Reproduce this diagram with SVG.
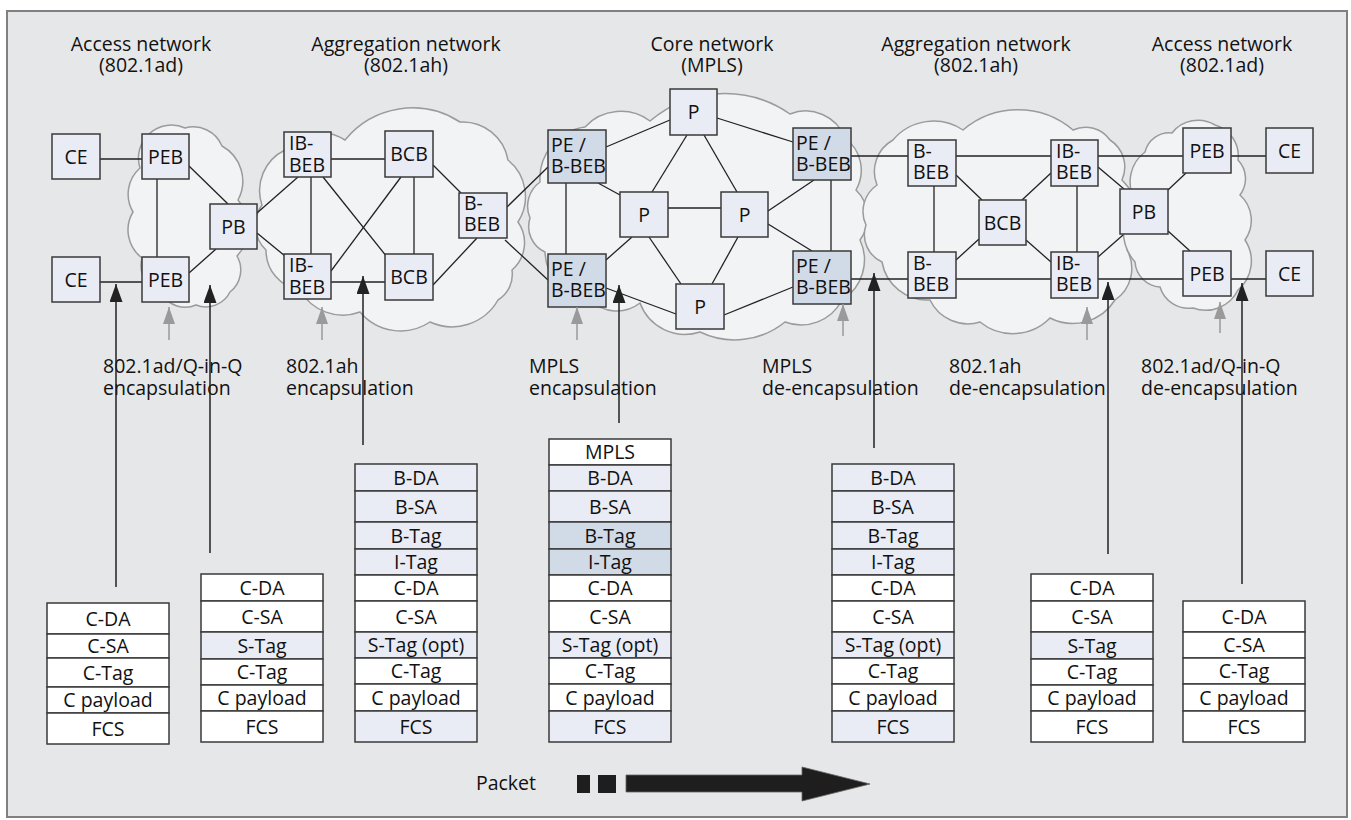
<svg xmlns="http://www.w3.org/2000/svg" width="1351" height="820" viewBox="0 0 1351 820">
<style>
.frame{fill:#e6e7e9;stroke:#808080;stroke-width:2}
.cloud{fill:#f2f3f5;stroke:#9b9b9b;stroke-width:1.5}
.node rect{fill:#e9ecf4;stroke:#3a3a3a;stroke-width:1.5}
.node.pe rect{fill:#d1dae7}
text{font-family:"Open Sans","Liberation Sans",sans-serif;font-size:19.5px;fill:#111}
.c{text-anchor:middle}
.link{stroke:#222;stroke-width:1.3;fill:none}
.arr{stroke:#222;stroke-width:1.5;fill:none}
.garr{stroke:#9a9a9a;stroke-width:1.5;fill:none}
.row rect{stroke:#3a3a3a;stroke-width:1.5;fill:#fff}
.row rect.s{fill:#e9ecf4}
.row rect.d{fill:#d1dae7}
</style>
<defs>
<marker id="ah" viewBox="0 0 18 13" refX="18" refY="6.5" markerWidth="18" markerHeight="13" markerUnits="userSpaceOnUse" orient="auto"><path d="M0,0 L18,6.5 L0,13 Z" fill="#222"/></marker>
<marker id="gh" viewBox="0 0 17 12" refX="17" refY="6" markerWidth="17" markerHeight="12" markerUnits="userSpaceOnUse" orient="auto"><path d="M0,0 L17,6 L0,12 Z" fill="#9a9a9a"/></marker>
</defs>
<rect class="frame" x="7" y="11" width="1340" height="806"/>
<g id="clouds">
<path class="cloud" d="M140,168 A33,33 0 0 1 185,128 A31,31 0 0 1 222,146 A40,40 0 0 1 238,200 A42,42 0 0 1 237,256 A28,28 0 0 1 230,292 A27,27 0 0 1 196,305 A27,27 0 0 1 162,294 A30,30 0 0 1 142,258 A35,35 0 0 1 133,212 A35,35 0 0 1 140,168 Z"/>
<path class="cloud" d="M285,150 A45,45 0 0 1 345,140 A87,87 0 0 1 460,122 A46,46 0 0 1 508,160 A47,47 0 0 1 518,222 A36,36 0 0 1 512,270 A30,30 0 0 1 498,300 A53,53 0 0 1 430,322 A53,53 0 0 1 360,312 A49,49 0 0 1 300,290 A40,40 0 0 1 266,250 A34,34 0 0 1 262,205 A45,45 0 0 1 285,150 Z"/>
<path class="cloud" d="M540,182 A52,52 0 0 1 585,127 A49,49 0 0 1 650,121 A115,115 0 0 1 790,114 A42,42 0 0 1 845,138 A40,40 0 0 1 856,190 A38,38 0 0 1 860,240 A47,47 0 0 1 842,300 A46,46 0 0 1 785,322 A80,80 0 0 1 700,332 A48,48 0 0 1 640,303 A38,38 0 0 1 590,300 A50,50 0 0 1 545,252 A28,28 0 0 1 530,218 A30,30 0 0 1 540,182 Z"/>
<path class="cloud" d="M893,140 A53,53 0 0 1 963,130 A85,85 0 0 1 1073,130 A30,30 0 0 1 1110,140 A32,32 0 0 1 1122,180 A53,53 0 0 1 1127,250 A38,38 0 0 1 1115,300 A50,50 0 0 1 1050,318 A52,52 0 0 1 980,322 A42,42 0 0 1 930,300 A46,46 0 0 1 882,262 A30,30 0 0 1 866,225 A32,32 0 0 1 877,185 A36,36 0 0 1 893,140 Z"/>
<path class="cloud" d="M1172,133 A33,33 0 0 1 1215,125 A32,32 0 0 1 1238,160 A27,27 0 0 1 1240,195 A34,34 0 0 1 1245,240 A38,38 0 0 1 1238,290 A36,36 0 0 1 1193,308 A30,30 0 0 1 1160,287 A27,27 0 0 1 1135,262 A47,47 0 0 1 1135,200 A37,37 0 0 1 1145,152 A25,25 0 0 1 1172,133 Z"/>
</g>
<g id="connectors" class="link">
<line x1="100" y1="159" x2="142" y2="159"/>
<line x1="100" y1="282" x2="142" y2="282"/>
<line x1="157" y1="179" x2="157" y2="257"/>
<line x1="189" y1="166" x2="228" y2="204"/>
<line x1="189" y1="273" x2="216" y2="249"/>
<line x1="257" y1="213" x2="298" y2="177"/>
<line x1="257" y1="233" x2="285" y2="256"/>
<line x1="331" y1="159" x2="385" y2="159"/>
<line x1="331" y1="282" x2="385" y2="282"/>
<line x1="311" y1="177" x2="311" y2="254"/>
<line x1="414" y1="177" x2="414" y2="254"/>
<line x1="323" y1="177" x2="387" y2="257"/>
<line x1="401" y1="177" x2="331" y2="271"/>
<line x1="433" y1="165" x2="461" y2="193"/>
<line x1="433" y1="285" x2="477" y2="238"/>
<line x1="507" y1="207" x2="548" y2="167"/>
<line x1="505" y1="240" x2="548" y2="280"/>
<line x1="566" y1="183" x2="566" y2="254"/>
<line x1="606" y1="147" x2="670" y2="120"/>
<line x1="598" y1="183" x2="620" y2="195"/>
<line x1="606" y1="260" x2="632" y2="237"/>
<line x1="606" y1="288" x2="676" y2="314"/>
<line x1="687" y1="135" x2="652" y2="192"/>
<line x1="704" y1="135" x2="737" y2="192"/>
<line x1="668" y1="208" x2="721" y2="208"/>
<line x1="649" y1="237" x2="681" y2="284"/>
<line x1="738" y1="237" x2="712" y2="284"/>
<line x1="717" y1="118" x2="793" y2="142"/>
<line x1="768" y1="211" x2="814" y2="180"/>
<line x1="768" y1="224" x2="812" y2="251"/>
<line x1="724" y1="315" x2="793" y2="287"/>
<line x1="831" y1="180" x2="831" y2="251"/>
<line x1="851" y1="156" x2="908" y2="156"/>
<line x1="956" y1="156" x2="1051" y2="156"/>
<line x1="1098" y1="156" x2="1183" y2="156"/>
<line x1="1231" y1="156" x2="1266" y2="156"/>
<line x1="851" y1="279" x2="908" y2="279"/>
<line x1="956" y1="279" x2="1051" y2="279"/>
<line x1="1098" y1="279" x2="1183" y2="279"/>
<line x1="1231" y1="279" x2="1266" y2="279"/>
<line x1="934" y1="186" x2="934" y2="252"/>
<line x1="956" y1="175" x2="982" y2="200"/>
<line x1="1022" y1="200" x2="1051" y2="173"/>
<line x1="956" y1="260" x2="979" y2="239"/>
<line x1="1026" y1="240" x2="1051" y2="262"/>
<line x1="1077" y1="186" x2="1077" y2="252"/>
<line x1="1098" y1="167" x2="1124" y2="189"/>
<line x1="1098" y1="257" x2="1123" y2="235"/>
<line x1="1168" y1="190" x2="1186" y2="173"/>
<line x1="1168" y1="231" x2="1190" y2="251"/>
</g>
<g id="ce1" class="node"><rect x="52" y="134" width="48" height="45"/><text class="c" x="76" y="163.5">CE</text></g>
<g id="ce2" class="node"><rect x="52" y="257" width="48" height="45"/><text class="c" x="76" y="286.5">CE</text></g>
<g id="peb1" class="node"><rect x="142" y="134" width="47" height="45"/><text class="c" x="165.5" y="163.5">PEB</text></g>
<g id="peb2" class="node"><rect x="142" y="257" width="47" height="45"/><text class="c" x="165.5" y="286.5">PEB</text></g>
<g id="pb1" class="node"><rect x="210" y="204" width="47" height="45"/><text class="c" x="233.5" y="233.5">PB</text></g>
<g id="ibbeb1" class="node"><rect x="284" y="132" width="47" height="45"/><text x="289" y="150">IB-<tspan x="289" dy="22">BEB</tspan></text></g>
<g id="ibbeb2" class="node"><rect x="284" y="254" width="47" height="45"/><text x="289" y="272">IB-<tspan x="289" dy="22">BEB</tspan></text></g>
<g id="bcb1" class="node"><rect x="385" y="131" width="48" height="46"/><text class="c" x="409" y="161">BCB</text></g>
<g id="bcb2" class="node"><rect x="385" y="254" width="48" height="46"/><text class="c" x="409" y="284">BCB</text></g>
<g id="bbeb1" class="node"><rect x="459" y="193" width="48" height="45"/><text x="464" y="210">B-<tspan x="464" dy="21">BEB</tspan></text></g>
<g id="pebbeb1" class="node pe"><rect x="548" y="130" width="58" height="53"/><text x="551" y="152">PE /<tspan x="551" dy="21">B-BEB</tspan></text></g>
<g id="pebbeb2" class="node pe"><rect x="548" y="254" width="58" height="53"/><text x="551" y="276">PE /<tspan x="551" dy="21">B-BEB</tspan></text></g>
<g id="p1" class="node"><rect x="670" y="89" width="47" height="46"/><text class="c" x="693.5" y="119">P</text></g>
<g id="p2" class="node"><rect x="620" y="192" width="48" height="45"/><text class="c" x="644" y="221.5">P</text></g>
<g id="p3" class="node"><rect x="721" y="192" width="47" height="45"/><text class="c" x="744.5" y="221.5">P</text></g>
<g id="p4" class="node"><rect x="676" y="284" width="48" height="45"/><text class="c" x="700" y="313.5">P</text></g>
<g id="pebbeb3" class="node pe"><rect x="793" y="128" width="58" height="52"/><text x="796" y="150">PE /<tspan x="796" dy="21">B-BEB</tspan></text></g>
<g id="pebbeb4" class="node pe"><rect x="793" y="251" width="58" height="53"/><text x="796" y="273">PE /<tspan x="796" dy="21">B-BEB</tspan></text></g>
<g id="bbeb2" class="node"><rect x="908" y="140" width="48" height="46"/><text x="913" y="158">B-<tspan x="913" dy="21">BEB</tspan></text></g>
<g id="bbeb3" class="node"><rect x="908" y="252" width="48" height="46"/><text x="913" y="270">B-<tspan x="913" dy="21">BEB</tspan></text></g>
<g id="bcb3" class="node"><rect x="979" y="200" width="47" height="45"/><text class="c" x="1002.5" y="229.5">BCB</text></g>
<g id="ibbeb3" class="node"><rect x="1051" y="140" width="47" height="46"/><text x="1056" y="158">IB-<tspan x="1056" dy="21">BEB</tspan></text></g>
<g id="ibbeb4" class="node"><rect x="1051" y="252" width="47" height="46"/><text x="1056" y="270">IB-<tspan x="1056" dy="21">BEB</tspan></text></g>
<g id="pb2" class="node"><rect x="1120" y="189" width="48" height="45"/><text class="c" x="1144" y="218.5">PB</text></g>
<g id="peb3" class="node"><rect x="1183" y="128" width="48" height="45"/><text class="c" x="1207" y="157.5">PEB</text></g>
<g id="peb4" class="node"><rect x="1183" y="251" width="48" height="45"/><text class="c" x="1207" y="280.5">PEB</text></g>
<g id="ce3" class="node"><rect x="1266" y="128" width="47" height="45"/><text class="c" x="1289.5" y="157.5">CE</text></g>
<g id="ce4" class="node"><rect x="1266" y="251" width="47" height="45"/><text class="c" x="1289.5" y="280.5">CE</text></g>
<g id="headers">
<text class="c" x="141" y="51">Access network<tspan x="141" dy="21">(802.1ad)</tspan></text>
<text class="c" x="406" y="51">Aggregation network<tspan x="406" dy="21">(802.1ah)</tspan></text>
<text class="c" x="712" y="51">Core network<tspan x="712" dy="21">(MPLS)</tspan></text>
<text class="c" x="976" y="51">Aggregation network<tspan x="976" dy="21">(802.1ah)</tspan></text>
<text class="c" x="1222" y="51">Access network<tspan x="1222" dy="21">(802.1ad)</tspan></text>
</g>
<g id="labels">
<text x="103" y="373">802.1ad/Q-in-Q<tspan x="103" dy="22">encapsulation</tspan></text>
<text x="286" y="373">802.1ah<tspan x="286" dy="22">encapsulation</tspan></text>
<text x="529" y="373">MPLS<tspan x="529" dy="22">encapsulation</tspan></text>
<text x="762" y="373">MPLS<tspan x="762" dy="22">de-encapsulation</tspan></text>
<text x="949" y="373">802.1ah<tspan x="949" dy="22">de-encapsulation</tspan></text>
<text x="1141" y="373">802.1ad/Q-in-Q<tspan x="1141" dy="22">de-encapsulation</tspan></text>
</g>
<g id="arrows">
<line class="garr" x1="169" y1="340" x2="169" y2="307" marker-end="url(#gh)"/>
<line class="garr" x1="322" y1="340" x2="322" y2="307" marker-end="url(#gh)"/>
<line class="garr" x1="577" y1="340" x2="577" y2="307" marker-end="url(#gh)"/>
<line class="garr" x1="843" y1="336" x2="843" y2="304" marker-end="url(#gh)"/>
<line class="garr" x1="1087" y1="340" x2="1087" y2="307" marker-end="url(#gh)"/>
<line class="garr" x1="1220" y1="333" x2="1220" y2="302" marker-end="url(#gh)"/>
<line class="arr" x1="116" y1="587" x2="116" y2="284" marker-end="url(#ah)"/>
<line class="arr" x1="210" y1="553" x2="210" y2="285" marker-end="url(#ah)"/>
<line class="arr" x1="363" y1="445" x2="363" y2="276" marker-end="url(#ah)"/>
<line class="arr" x1="619" y1="423" x2="619" y2="285" marker-end="url(#ah)"/>
<line class="arr" x1="874" y1="448" x2="874" y2="273" marker-end="url(#ah)"/>
<line class="arr" x1="1108" y1="554" x2="1108" y2="282" marker-end="url(#ah)"/>
<line class="arr" x1="1242" y1="584" x2="1242" y2="283" marker-end="url(#ah)"/>
</g>
<g id="stack1" class="row">
<rect x="47" y="603" width="122" height="31"/><text class="c" x="108" y="625.5">C-DA</text>
<rect x="47" y="634" width="122" height="24"/><text class="c" x="108" y="653">C-SA</text>
<rect x="47" y="658" width="122" height="29"/><text class="c" x="108" y="679.5">C-Tag</text>
<rect x="47" y="687" width="122" height="26"/><text class="c" x="108" y="707">C payload</text>
<rect x="47" y="713" width="122" height="31"/><text class="c" x="108" y="735.5">FCS</text>
</g>
<g id="stack2" class="row">
<rect x="201" y="574" width="122" height="27"/><text class="c" x="262" y="594.5">C-DA</text>
<rect x="201" y="601" width="122" height="31"/><text class="c" x="262" y="623.5">C-SA</text>
<rect class="s" x="201" y="632" width="122" height="27"/><text class="c" x="262" y="652.5">S-Tag</text>
<rect x="201" y="659" width="122" height="26"/><text class="c" x="262" y="679">C-Tag</text>
<rect x="201" y="685" width="122" height="26"/><text class="c" x="262" y="705">C payload</text>
<rect x="201" y="711" width="122" height="31"/><text class="c" x="262" y="733.5">FCS</text>
</g>
<g id="stack3" class="row">
<rect class="s" x="355" y="464" width="122" height="27"/><text class="c" x="416" y="484.5">B-DA</text>
<rect class="s" x="355" y="491" width="122" height="31"/><text class="c" x="416" y="513.5">B-SA</text>
<rect class="s" x="355" y="522" width="122" height="27"/><text class="c" x="416" y="542.5">B-Tag</text>
<rect class="s" x="355" y="549" width="122" height="26"/><text class="c" x="416" y="569">I-Tag</text>
<rect x="355" y="575" width="122" height="26"/><text class="c" x="416" y="595">C-DA</text>
<rect x="355" y="601" width="122" height="31"/><text class="c" x="416" y="623.5">C-SA</text>
<rect class="s" x="355" y="632" width="122" height="26"/><text class="c" x="416" y="652">S-Tag (opt)</text>
<rect x="355" y="658" width="122" height="26"/><text class="c" x="416" y="678">C-Tag</text>
<rect x="355" y="684" width="122" height="27"/><text class="c" x="416" y="704.5">C payload</text>
<rect class="s" x="355" y="711" width="122" height="31"/><text class="c" x="416" y="733.5">FCS</text>
</g>
<g id="stack4" class="row">
<rect x="549" y="439" width="122" height="26"/><text class="c" x="610" y="459">MPLS</text>
<rect class="s" x="549" y="465" width="122" height="26"/><text class="c" x="610" y="485">B-DA</text>
<rect class="s" x="549" y="491" width="122" height="31"/><text class="c" x="610" y="513.5">B-SA</text>
<rect class="d" x="549" y="522" width="122" height="27"/><text class="c" x="610" y="542.5">B-Tag</text>
<rect class="d" x="549" y="549" width="122" height="26"/><text class="c" x="610" y="569">I-Tag</text>
<rect x="549" y="575" width="122" height="26"/><text class="c" x="610" y="595">C-DA</text>
<rect x="549" y="601" width="122" height="31"/><text class="c" x="610" y="623.5">C-SA</text>
<rect class="s" x="549" y="632" width="122" height="26"/><text class="c" x="610" y="652">S-Tag (opt)</text>
<rect x="549" y="658" width="122" height="26"/><text class="c" x="610" y="678">C-Tag</text>
<rect x="549" y="684" width="122" height="27"/><text class="c" x="610" y="704.5">C payload</text>
<rect class="s" x="549" y="711" width="122" height="31"/><text class="c" x="610" y="733.5">FCS</text>
</g>
<g id="stack5" class="row">
<rect class="s" x="832" y="464" width="122" height="27"/><text class="c" x="893" y="484.5">B-DA</text>
<rect class="s" x="832" y="491" width="122" height="31"/><text class="c" x="893" y="513.5">B-SA</text>
<rect class="s" x="832" y="522" width="122" height="27"/><text class="c" x="893" y="542.5">B-Tag</text>
<rect class="s" x="832" y="549" width="122" height="26"/><text class="c" x="893" y="569">I-Tag</text>
<rect x="832" y="575" width="122" height="26"/><text class="c" x="893" y="595">C-DA</text>
<rect x="832" y="601" width="122" height="31"/><text class="c" x="893" y="623.5">C-SA</text>
<rect class="s" x="832" y="632" width="122" height="26"/><text class="c" x="893" y="652">S-Tag (opt)</text>
<rect x="832" y="658" width="122" height="26"/><text class="c" x="893" y="678">C-Tag</text>
<rect x="832" y="684" width="122" height="27"/><text class="c" x="893" y="704.5">C payload</text>
<rect class="s" x="832" y="711" width="122" height="31"/><text class="c" x="893" y="733.5">FCS</text>
</g>
<g id="stack6" class="row">
<rect x="1031" y="574" width="122" height="27"/><text class="c" x="1092" y="594.5">C-DA</text>
<rect x="1031" y="601" width="122" height="31"/><text class="c" x="1092" y="623.5">C-SA</text>
<rect class="s" x="1031" y="632" width="122" height="27"/><text class="c" x="1092" y="652.5">S-Tag</text>
<rect x="1031" y="659" width="122" height="26"/><text class="c" x="1092" y="679">C-Tag</text>
<rect x="1031" y="685" width="122" height="26"/><text class="c" x="1092" y="705">C payload</text>
<rect x="1031" y="711" width="122" height="31"/><text class="c" x="1092" y="733.5">FCS</text>
</g>
<g id="stack7" class="row">
<rect x="1183" y="601" width="122" height="31"/><text class="c" x="1244" y="623.5">C-DA</text>
<rect x="1183" y="632" width="122" height="26"/><text class="c" x="1244" y="652">C-SA</text>
<rect x="1183" y="658" width="122" height="26"/><text class="c" x="1244" y="678">C-Tag</text>
<rect x="1183" y="684" width="122" height="27"/><text class="c" x="1244" y="704.5">C payload</text>
<rect x="1183" y="711" width="122" height="31"/><text class="c" x="1244" y="733.5">FCS</text>
</g>
<g id="packet">
<text x="536" y="790" text-anchor="end">Packet</text>
<rect x="577" y="775" width="13" height="18" fill="#1e1e1e"/>
<rect x="598" y="775" width="18" height="18" fill="#1e1e1e"/>
<path d="M626,775 L802,775 L802,767 L870,784 L802,801 L802,792 L626,792 Z" fill="#1e1e1e" stroke="#666" stroke-width="0.8"/>
</g>
</svg>
